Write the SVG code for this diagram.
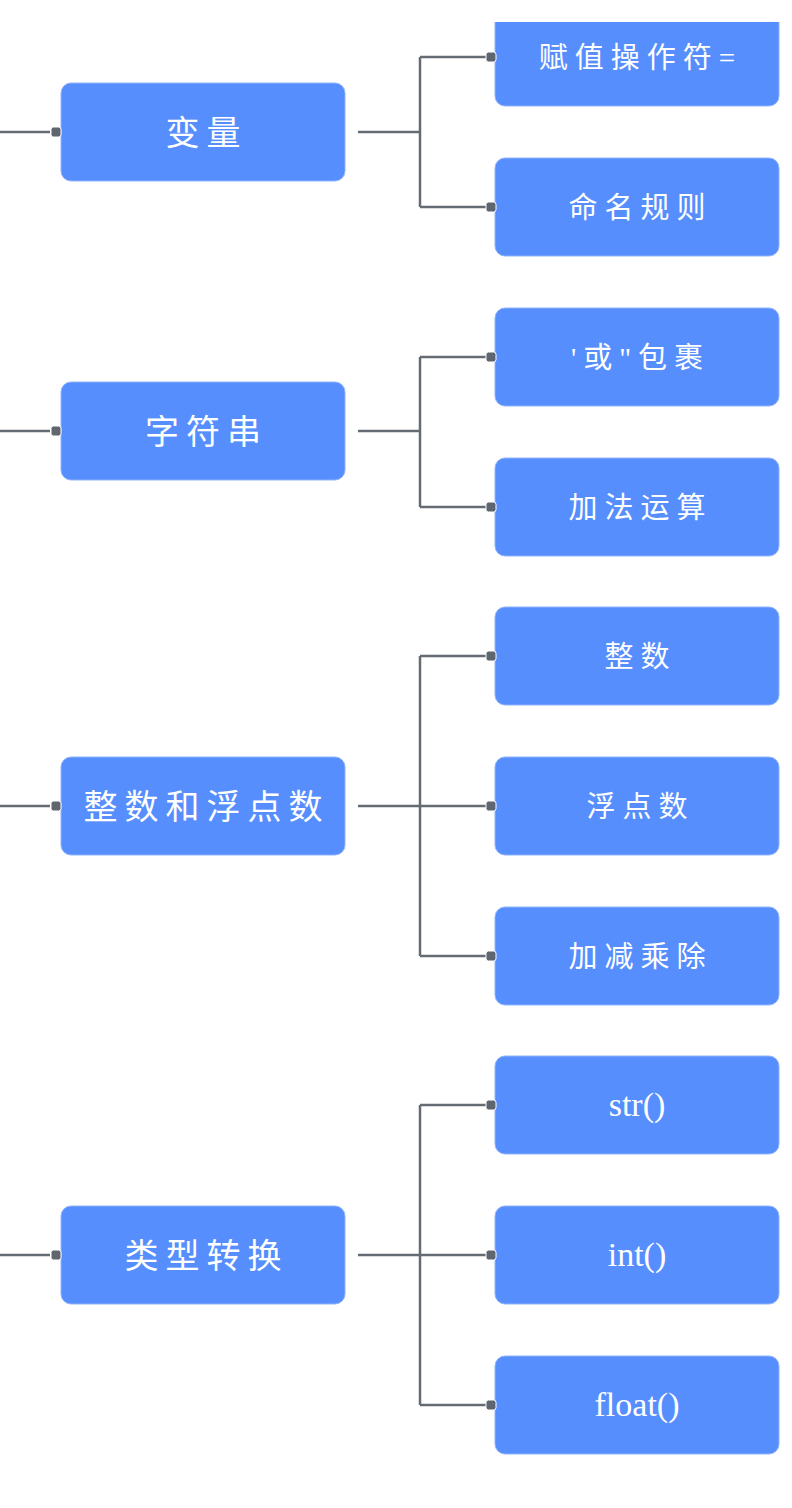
<svg xmlns="http://www.w3.org/2000/svg" width="792" height="1508" viewBox="0 0 792 1508">
<defs>
<style>
.node{fill:#568efd;stroke:#8fb4fc;stroke-width:1}
.lbl{fill:#ffffff;font-family:"Liberation Serif","Noto Sans CJK SC",serif;text-anchor:middle;dominant-baseline:central}
.big{font-size:34px;letter-spacing:7px}
.sm{font-size:29px;letter-spacing:7px}
.lat{font-size:34px;letter-spacing:0}
.ln{fill:none;stroke:#646b73;stroke-width:2.5}
.dot{fill:#5f6670;stroke:#ffffff;stroke-width:1}
</style>
<clipPath id="topclip"><rect x="0" y="22" width="792" height="1486"/></clipPath>
</defs>
<rect width="792" height="1508" fill="#ffffff"/>
<g id="connectors">
<path class="ln" d="M0 132H50M0 431H50M0 806H50M0 1255H50"/>
<path class="ln" d="M358 132H420M420 57V207M420 57H488M420 207H488"/>
<path class="ln" d="M358 431H420M420 357V507M420 357H488M420 507H488"/>
<path class="ln" d="M358 806H488M420 656V956M420 656H488M420 956H488"/>
<path class="ln" d="M358 1255H488M420 1105V1405M420 1105H488M420 1405H488"/>
</g>
<g id="n-bianliang"><rect class="node" x="61" y="83" width="284" height="98" rx="10"/><rect class="dot" x="51" y="127" width="10" height="10" rx="2.5"/><text class="lbl big" x="206.5" y="133">变量</text></g>
<g id="n-zifuchuan"><rect class="node" x="61" y="382" width="284" height="98" rx="10"/><rect class="dot" x="51" y="426" width="10" height="10" rx="2.5"/><text class="lbl big" x="206.5" y="432">字符串</text></g>
<g id="n-zhengshu"><rect class="node" x="61" y="757" width="284" height="98" rx="10"/><rect class="dot" x="51" y="801" width="10" height="10" rx="2.5"/><text class="lbl big" x="206.5" y="807">整数和浮点数</text></g>
<g id="n-leixing"><rect class="node" x="61" y="1206" width="284" height="98" rx="10"/><rect class="dot" x="51" y="1250" width="10" height="10" rx="2.5"/><text class="lbl big" x="206.5" y="1256">类型转换</text></g>
<g id="n-fuzhi" clip-path="url(#topclip)"><rect class="node" x="495" y="8" width="284" height="98" rx="10"/><rect class="dot" x="486" y="52" width="10" height="10" rx="2.5"/><text class="lbl sm" x="640.5" y="58">赋值操作符=</text></g>
<g id="n-mingming"><rect class="node" x="495" y="158" width="284" height="98" rx="10"/><rect class="dot" x="486" y="202" width="10" height="10" rx="2.5"/><text class="lbl sm" x="640.5" y="208">命名规则</text></g>
<g id="n-baoguo"><rect class="node" x="495" y="308" width="284" height="98" rx="10"/><rect class="dot" x="486" y="352" width="10" height="10" rx="2.5"/><text class="lbl sm" x="640.5" y="358">'或"包裹</text></g>
<g id="n-jiafa"><rect class="node" x="495" y="458" width="284" height="98" rx="10"/><rect class="dot" x="486" y="502" width="10" height="10" rx="2.5"/><text class="lbl sm" x="640.5" y="508">加法运算</text></g>
<g id="n-zs"><rect class="node" x="495" y="607" width="284" height="98" rx="10"/><rect class="dot" x="486" y="651" width="10" height="10" rx="2.5"/><text class="lbl sm" x="640.5" y="657">整数</text></g>
<g id="n-fds"><rect class="node" x="495" y="757" width="284" height="98" rx="10"/><rect class="dot" x="486" y="801" width="10" height="10" rx="2.5"/><text class="lbl sm" x="640.5" y="807">浮点数</text></g>
<g id="n-jjcc"><rect class="node" x="495" y="907" width="284" height="98" rx="10"/><rect class="dot" x="486" y="951" width="10" height="10" rx="2.5"/><text class="lbl sm" x="640.5" y="957">加减乘除</text></g>
<g id="n-str"><rect class="node" x="495" y="1056" width="284" height="98" rx="10"/><rect class="dot" x="486" y="1100" width="10" height="10" rx="2.5"/><text class="lbl lat" x="637" y="1104">str()</text></g>
<g id="n-int"><rect class="node" x="495" y="1206" width="284" height="98" rx="10"/><rect class="dot" x="486" y="1250" width="10" height="10" rx="2.5"/><text class="lbl lat" x="637" y="1254">int()</text></g>
<g id="n-float"><rect class="node" x="495" y="1356" width="284" height="98" rx="10"/><rect class="dot" x="486" y="1400" width="10" height="10" rx="2.5"/><text class="lbl lat" x="637" y="1404">float()</text></g>
</svg>
